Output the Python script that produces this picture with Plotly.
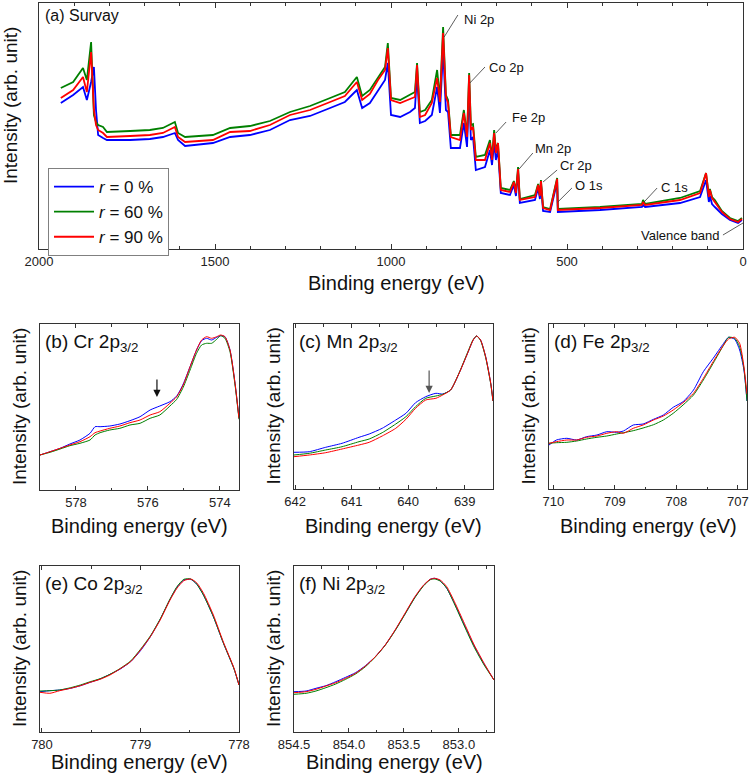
import plotly.graph_objects as go

W, H = 749, 777
FONT = "Liberation Sans, Arial, sans-serif"

# ---------------- (a) Survey ----------------
survey_energy = [1938, 1903, 1875, 1864, 1852, 1844, 1838, 1832, 1818, 1807, 1741, 1685, 1648, 1614, 1605,
                 1585, 1506, 1457, 1401, 1344, 1287, 1230, 1173, 1131, 1097, 1082, 1060, 1037, 1017, 1009,
                 1000, 974, 946, 932, 926, 918, 903, 884, 869, 861, 852, 844, 838, 830, 804,
                 793, 784, 778, 773, 767, 759, 733, 719, 713, 707, 702, 696, 688, 662, 651,
                 645, 639, 634, 591, 582, 577, 574, 568, 548, 528, 526, 406, 287, 284, 278,
                 179, 122, 105, 97, 94, 88, 80, 60, 37, 14, 3]
survey_r0 = [146, 154, 162, 149, 167, 182, 139, 114, 111, 109, 109, 110, 112, 116, 109,
             103, 106, 112, 114, 119, 129, 133, 141, 147, 159, 141, 146, 159, 169, 186,
             134, 132, 137, 141, 174, 126, 128, 134, 162, 136, 199, 139, 137, 101, 101,
             126, 102, 159, 109, 112, 79, 82, 99, 84, 106, 89, 99, 56, 54, 64,
             53, 77, 46, 49, 61, 50, 65, 38, 37, 67, 37, 39, 42, 44, 42,
             46, 52, 69, 47, 53, 45, 42, 35, 29, 26, 29]
survey_r60 = [161, 167, 181, 169, 207, 134, 127, 124, 122, 117, 118, 119, 121, 127, 116,
              112, 114, 121, 123, 128, 137, 143, 151, 157, 172, 153, 159, 172, 182, 206,
              151, 149, 154, 157, 186, 137, 139, 149, 179, 151, 222, 154, 149, 114, 114,
              139, 114, 176, 124, 125, 92, 94, 109, 92, 119, 99, 106, 61, 59, 68,
              58, 82, 50, 54, 65, 54, 69, 42, 40, 71, 40, 42, 45, 49, 45,
              51, 58, 76, 54, 60, 52, 49, 38, 31, 28, 31]
survey_r90 = [151, 159, 172, 157, 197, 139, 124, 119, 116, 112, 113, 114, 116, 122, 112,
              107, 109, 117, 118, 124, 134, 139, 147, 153, 167, 149, 155, 169, 179, 201,
              149, 146, 150, 152, 184, 132, 134, 146, 171, 147, 216, 152, 146, 112, 109,
              136, 112, 174, 119, 122, 89, 89, 106, 89, 116, 96, 106, 59, 57, 67,
              56, 80, 49, 52, 64, 53, 68, 41, 39, 70, 39, 41, 44, 47, 44,
              49, 56, 76, 52, 59, 51, 47, 37, 30, 27, 30]

survey_labels = ["Ni 2p", "Co 2p", "Fe 2p", "Mn 2p", "Cr 2p", "O 1s", "C 1s", "Valence band"]
survey_label_pos = [(798, 229), (727, 182), (662, 132), (597, 101), (526, 84), (483, 64), (239, 62), (60, 14)]
survey_leaders = [((849, 212), (810, 234)), ((776, 166), (733, 182)), ((702, 116), (673, 127)),
                  ((636, 80), (597, 96)), ((568, 67), (528, 79)), ((526, 47), (486, 61)),
                  ((281, 47), (244, 61)), ((0, 26), (57, 14))]

# ---------------- (b) Cr 2p3/2 ----------------
cr_energy = [579.0, 578.72, 578.44, 578.17, 577.89, 577.61, 577.47, 577.33, 577.06, 576.78, 576.5, 576.22,
             575.94, 575.67, 575.39, 575.2, 575.02, 574.83, 574.65, 574.51, 574.37, 574.23, 574.09,
             573.98, 573.86, 573.72, 573.58, 573.47]
cr_r0 = [35, 38.3, 41.7, 46, 50, 56.7, 63.3, 63.3, 64, 66, 69.3, 73.3, 80, 84, 88.3, 94, 106, 123.3,
         140, 149.3, 151.7, 150, 152.7, 154.3, 153.3, 140, 106.7, 71.7]
cr_r60 = [35, 37.7, 41, 44.3, 46.7, 50, 55, 57.3, 60, 61.7, 65, 66.7, 71.7, 75, 84, 90.7, 102.7, 120,
          136.7, 145, 146.7, 146.7, 150.7, 154.3, 151.7, 138.3, 105, 70.7]
cr_r90 = [35, 38.3, 41.7, 45, 48.3, 53.3, 57.3, 59, 61.7, 64, 67.3, 70, 75, 78.3, 86.7, 93.3, 105, 123.3,
          140, 150, 153.3, 151.7, 153.3, 155, 153.3, 140, 106.7, 71.7]

# ---------------- (c) Mn 2p3/2 ----------------
mn_energy = [642.02, 641.75, 641.46, 641.17, 640.87, 640.69, 640.46, 640.22, 640.04, 639.87, 639.69,
             639.51, 639.39, 639.25, 639.10, 638.95, 638.85, 638.79, 638.72, 638.63, 638.54, 638.5]
mn_r0 = [36.7, 37.3, 41.7, 45.7, 51.7, 55, 60.7, 69, 75.7, 86.3, 92.3, 95.7, 95, 99, 115.7, 135.7,
         149, 153, 149, 132.3, 105.7, 88]
mn_r60 = [34, 35.7, 39, 42.3, 47.3, 50, 56.3, 65, 72.3, 82.3, 90.7, 93, 94.7, 99, 116, 136.5,
          149.5, 153, 148.5, 131.5, 105, 88]
mn_r90 = [32.3, 34, 36.3, 40, 44, 46.7, 53, 60.7, 69.7, 80.7, 89, 90.7, 94, 99, 115.7, 135.7,
          149, 153, 149, 132.3, 105.7, 88]

# ---------------- (d) Fe 2p3/2 ----------------
fe_energy = [710.07, 709.95, 709.78, 709.62, 709.46, 709.29, 709.13, 708.97, 708.86, 708.7, 708.54,
             708.37, 708.21, 708.05, 707.89, 707.72, 707.56, 707.4, 707.23, 707.15, 707.05, 706.97,
             706.9, 706.85]
fe_r0 = [44, 49, 50.7, 49, 52.3, 54, 57.3, 56.7, 58, 64, 65, 69.7, 74, 81.7, 87.3, 99, 117.3, 130.7,
         145.7, 151.7, 149.7, 139, 119, 88]
fe_r60 = [45.7, 46.3, 46.7, 48, 50, 51.7, 53, 55, 56.3, 58.3, 61, 64.3, 69, 75.7, 84, 94, 109, 125.7,
          144, 151.7, 150.7, 142.3, 120.7, 88]
fe_r90 = [45.7, 47.3, 49, 49, 51.7, 53, 55.7, 57.3, 55.7, 60.7, 64, 69, 73, 79, 86.3, 95.7, 110.7,
          127.3, 144, 150, 151.7, 145.7, 122.3, 95]

# ---------------- (e) Co 2p3/2 ----------------
co_energy = [780.02, 779.92, 779.82, 779.71, 779.61, 779.51, 779.41, 779.31, 779.21, 779.10, 779.0,
             778.9, 778.8, 778.7, 778.63, 778.56, 778.49, 778.43, 778.36, 778.26, 778.16, 778.05, 778.0]
co_r0 = [40.3, 41.3, 42, 43.7, 46.3, 49.7, 53, 57.7, 62.7, 70.3, 81.3, 95.3, 112.7, 132.7, 144.7,
         152, 152.7, 148, 137, 115.3, 89.3, 63, 47]
co_r60 = [41, 41.3, 42, 44.3, 47, 50.3, 53.3, 57.7, 63.3, 71, 82.7, 96, 113, 133, 145.3, 152.7,
          153, 148, 136.7, 115.3, 89.3, 63, 47]
co_r90 = [39.7, 38.7, 41.3, 43.7, 46.3, 49.7, 52.7, 57, 63, 70.3, 82, 95.3, 112, 132, 143.7, 151.3,
          153, 149.3, 138.7, 117, 90.3, 63.7, 47]

# ---------------- (f) Ni 2p3/2 ----------------
ni_energy = [854.5, 854.39, 854.30, 854.21, 854.12, 854.03, 853.94, 853.85, 853.76, 853.67, 853.58,
             853.49, 853.40, 853.32, 853.26, 853.22, 853.17, 853.11, 853.04, 852.95, 852.86, 852.77, 852.68]
ni_r0 = [40.3, 41, 43.7, 46.3, 50.3, 54.7, 59.3, 66.3, 75.3, 87, 101.7, 118, 134.7, 146.7, 152.7,
         153.7, 151.3, 143.7, 128.7, 107, 86, 68, 52]
ni_r60 = [37.7, 38.7, 41, 44.3, 48, 52.7, 58, 65.3, 75, 86.7, 101.3, 117.7, 134.3, 146.3, 152.3,
          153, 151, 143.7, 128, 106, 84.7, 67, 52]
ni_r90 = [39.3, 40.3, 42.7, 46, 49.3, 53.7, 58.7, 66, 75.3, 87, 102, 118.7, 135.3, 147, 152.7,
          153.7, 152, 145.3, 130.3, 108.7, 87, 68.7, 52]

series_names = ["<i>r</i> = 0 %", "<i>r</i> = 60 %", "<i>r</i> = 90 %"]
series_colors = ["#0000FF", "#008000", "#FF0000"]

panels = [
    # key, title, energy, series, xrange, yrange, dtick, minor, domain px (x0,x1,ytop,ybot), tickformat, title offset
    ("2", "(b) Cr 2p<sub>3/2</sub>", cr_energy, [cr_r0, cr_r60, cr_r90], [579.0, 573.47], [0, 166], 2, 1, (40, 239, 324, 490), None, 36),
    ("3", "(c) Mn 2p<sub>3/2</sub>", mn_energy, [mn_r0, mn_r60, mn_r90], [642.02, 638.5], [0, 165], 1, 0.5, (294, 493, 324, 489), None, 37),
    ("4", "(d) Fe 2p<sub>3/2</sub>", fe_energy, [fe_r0, fe_r60, fe_r90], [710.07, 706.85], [0, 165], 1, 0.5, (549, 747, 324, 489), None, 37),
    ("5", "(e) Co 2p<sub>3/2</sub>", co_energy, [co_r0, co_r60, co_r90], [780.02, 778.0], [0, 166], 1, 0.5, (40, 239, 566, 732), None, 30),
    ("6", "(f) Ni 2p<sub>3/2</sub>", ni_energy, [ni_r0, ni_r60, ni_r90], [854.5, 852.68], [0, 166], 0.5, 0.25, (294, 494, 566, 732), ".1f", 30),
]


def dx(px):
    return px / W


def dy(py):
    return 1 - py / H


fig = go.Figure()

for name, col, ys in zip(series_names, series_colors, [survey_r0, survey_r60, survey_r90]):
    fig.add_trace(go.Scatter(x=survey_energy, y=ys, mode="lines", name=name,
                             line=dict(color=col, width=1.8), xaxis="x", yaxis="y"))

for key, title, en, sers, xr, yr, dt, mn, dom, tf, toff in panels:
    for name, col, ys in zip(series_names, series_colors, sers):
        fig.add_trace(go.Scatter(x=en, y=ys, mode="lines", name=name, showlegend=False,
                                 line=dict(color=col, width=1, shape="spline", smoothing=0.6),
                                 xaxis="x" + key, yaxis="y" + key))

axis_common = dict(showline=True, linecolor="#333333", linewidth=1, mirror="allticks",
                   showgrid=False, zeroline=False, automargin=False)
tickfont = dict(family=FONT, size=13, color="#222222")

layout = dict(
    width=W, height=H, autosize=False,
    margin=dict(l=0, r=0, t=0, b=0, pad=0, autoexpand=False),
    paper_bgcolor="white", plot_bgcolor="white",
    font=dict(family=FONT, color="#111111"),
    showlegend=True,
    legend=dict(x=dx(48), y=dy(168), xanchor="left", yanchor="top",
                bgcolor="white", bordercolor="#808080", borderwidth=1,
                font=dict(family=FONT, size=17, color="#111111"),
                itemwidth=40, tracegroupgap=0),
    xaxis=dict(domain=[dx(39), dx(743)], range=[2000, 0], anchor="y",
               ticks="inside", ticklen=5, tickcolor="#333333", dtick=500, tick0=0,
               minor=dict(dtick=100, ticks="inside", ticklen=3, tickcolor="#333333"),
               tickfont=tickfont, **axis_common),
    yaxis=dict(domain=[dy(249), dy(3)], range=[0, 246], anchor="x",
               ticks="", showticklabels=False, **axis_common),
)

annotations = []
shapes = []

for key, title, en, sers, xr, yr, dt, mn, dom, tf, toff in panels:
    x0, x1, yt, yb = dom
    xa = dict(domain=[dx(x0), dx(x1)], range=xr, anchor="y" + key,
              ticks="inside", ticklen=4, tickcolor="#333333", dtick=dt, tick0=0,
              minor=dict(dtick=mn, ticks="inside", ticklen=2.5, tickcolor="#333333"),
              tickfont=tickfont, **axis_common)
    if tf:
        xa["tickformat"] = tf
    layout["xaxis" + key] = xa
    layout["yaxis" + key] = dict(domain=[dy(yb), dy(yt)], range=yr, anchor="x" + key,
                                 ticks="", showticklabels=False, **axis_common)
    annotations.append(dict(text=title, xref="paper", yref="paper", x=dx(x0 + 3), y=dy(yt + 19),
                            xanchor="left", yanchor="middle", showarrow=False,
                            font=dict(family=FONT, size=19, color="#111111")))
    annotations.append(dict(text="Binding energy (eV)", xref="paper", yref="paper",
                            x=dx((x0 + x1) / 2), y=dy(yb + toff), xanchor="center", yanchor="middle",
                            showarrow=False, font=dict(family=FONT, size=20, color="#111111")))
    annotations.append(dict(text="Intensity (arb. unit)", xref="paper", yref="paper",
                            x=dx(x0 - 21), y=dy((yt + yb) / 2), xanchor="center", yanchor="middle",
                            textangle=-90, showarrow=False,
                            font=dict(family=FONT, size=19, color="#111111")))

annotations.append(dict(text="(a) Survay", xref="paper", yref="paper", x=dx(43), y=dy(16),
                        xanchor="left", yanchor="middle", showarrow=False,
                        font=dict(family=FONT, size=16, color="#111111")))
annotations.append(dict(text="Binding energy (eV)", xref="paper", yref="paper", x=dx(396), y=dy(283),
                        xanchor="center", yanchor="middle", showarrow=False,
                        font=dict(family=FONT, size=20, color="#111111")))
annotations.append(dict(text="Intensity (arb. unit)", xref="paper", yref="paper", x=dx(11), y=dy(106),
                        xanchor="center", yanchor="middle", textangle=-90, showarrow=False,
                        font=dict(family=FONT, size=19, color="#111111")))

for lab, (lx, ly), ((ax0, ay0), (ax1, ay1)) in zip(survey_labels, survey_label_pos, survey_leaders):
    annotations.append(dict(text=lab, xref="x", yref="y", x=lx, y=ly,
                            xanchor="right" if lab == "Valence band" else "left", yanchor="middle",
                            showarrow=False, font=dict(family=FONT, size=13, color="#111111")))
    shapes.append(dict(type="line", xref="x", yref="y", x0=ax0, y0=ay0, x1=ax1, y1=ay1,
                       line=dict(color="#333333", width=0.8)))

annotations.append(dict(text="", xref="x2", yref="y2", x=575.75, y=93, axref="x2", ayref="y2",
                        ax=575.75, ay=112, showarrow=True, arrowhead=2, arrowsize=1.2,
                        arrowwidth=1.2, arrowcolor="#111111"))
annotations.append(dict(text="", xref="x3", yref="y3", x=639.63, y=96, axref="x3", ayref="y3",
                        ax=639.63, ay=120, showarrow=True, arrowhead=2, arrowsize=1.2,
                        arrowwidth=1.2, arrowcolor="#555555"))

layout["annotations"] = annotations
layout["shapes"] = shapes
fig.update_layout(**layout)

fig.write_html("out.html", config={"responsive": False, "displayModeBar": False},
               post_script="document.body.style.margin='0px';document.body.style.padding='0px';"
                           "document.body.style.overflow='hidden';")
